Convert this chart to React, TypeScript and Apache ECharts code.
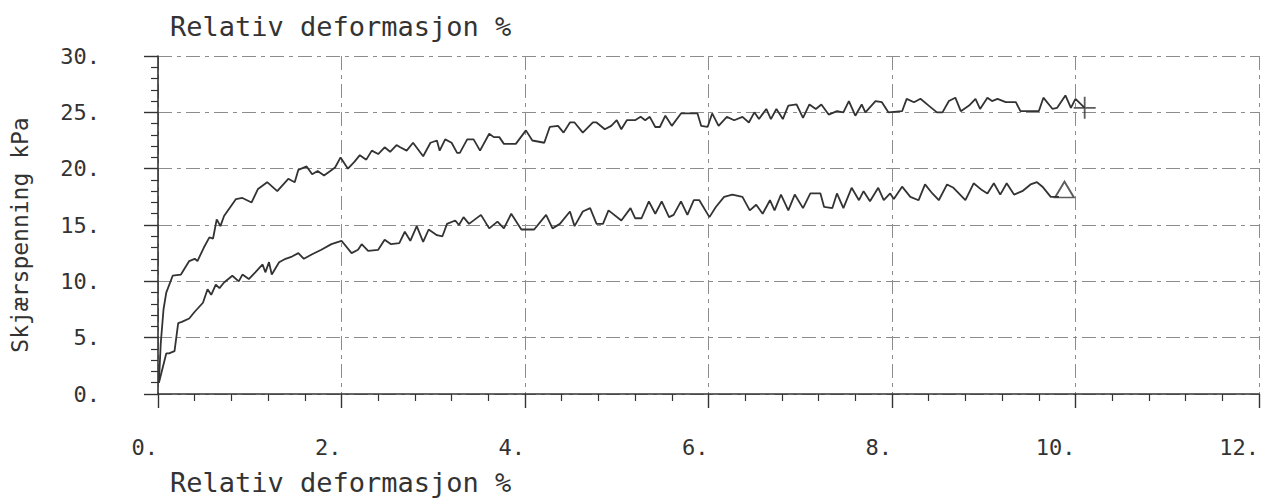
import React, { useEffect, useRef } from "react";
import * as echarts from "echarts";

// ---- Data ----
const titleText = "Relativ deformasjon %";
const yAxisTitle = "Skjærspenning kPa";

const xTickLabels = ["0.", "2.", "4.", "6.", "8.", "10.", "12."];
const yTickLabels = ["0.", "5.", "10.", "15.", "20.", "25.", "30."];

// Upper curve (relative deformation %, shear stress kPa)
const upperStrain = [
  0.01, 0.03, 0.06, 0.09, 0.16, 0.25, 0.34, 0.40, 0.43, 0.50, 0.56, 0.60, 0.64, 0.68, 0.72, 0.85, 0.92, 1.02,
  1.09, 1.19, 1.30, 1.42, 1.49, 1.53, 1.62, 1.68, 1.74, 1.81, 1.93, 1.99, 2.07, 2.14, 2.20, 2.27, 2.33, 2.40,
  2.47, 2.53, 2.60, 2.64, 2.71, 2.78, 2.89, 2.97, 3.04, 3.07, 3.13, 3.20, 3.26, 3.29, 3.37, 3.44, 3.51, 3.61,
  3.66, 3.72, 3.77, 3.90, 4.01, 4.08, 4.21, 4.27, 4.36, 4.42, 4.49, 4.54, 4.63, 4.74, 4.78, 4.87, 4.94, 5.00,
  5.05, 5.11, 5.20, 5.26, 5.31, 5.36, 5.42, 5.47, 5.53, 5.60, 5.70, 5.88, 5.92, 5.99, 6.04, 6.11, 6.20, 6.28,
  6.37, 6.44, 6.50, 6.55, 6.63, 6.68, 6.74, 6.81, 6.87, 6.96, 7.03, 7.10, 7.17, 7.23, 7.31, 7.40, 7.47, 7.53,
  7.60, 7.67, 7.71, 7.82, 7.89, 7.96, 8.11, 8.16, 8.24, 8.31, 8.40, 8.49, 8.55, 8.62, 8.69, 8.75, 8.84, 8.91,
  8.96, 9.04, 9.09, 9.15, 9.24, 9.35, 9.40, 9.60, 9.65, 9.75, 9.80, 9.89, 9.95, 10.00, 10.10,
];
const upperStress = [
  1.0, 4.5, 7.5, 9.0, 10.5, 10.6, 11.8, 12.0, 11.8, 13.0, 13.9, 13.8, 15.5, 14.9, 15.8, 17.3, 17.4, 17.0,
  18.2, 18.8, 18.0, 19.1, 18.8, 19.9, 20.2, 19.5, 19.8, 19.4, 20.1, 21.0, 20.0, 20.6, 21.2, 20.8, 21.6, 21.3,
  21.9, 21.5, 22.1, 21.9, 21.6, 22.3, 21.1, 22.3, 22.5, 21.6, 22.6, 22.3, 21.4, 21.4, 22.6, 22.6, 21.6, 23.1,
  22.8, 22.8, 22.2, 22.2, 23.4, 22.5, 22.3, 23.7, 23.8, 23.2, 24.1, 24.1, 23.2, 24.1, 24.1, 23.5, 23.8, 24.3,
  23.5, 24.3, 24.3, 24.6, 24.3, 24.6, 23.7, 23.7, 24.7, 23.8, 24.9, 24.9, 23.8, 23.7, 24.9, 23.8, 24.6, 24.3,
  24.6, 24.1, 25.0, 24.4, 25.3, 24.4, 25.3, 24.4, 25.6, 25.7, 24.5, 25.7, 25.3, 25.7, 24.8, 25.1, 25.0, 26.0,
  24.7, 25.7, 25.0, 26.0, 25.9, 25.0, 25.1, 26.2, 25.9, 26.2, 25.6, 25.0, 25.0, 26.0, 26.3, 25.1, 25.6, 26.2,
  25.3, 26.3, 26.0, 26.2, 25.9, 25.9, 25.1, 25.1, 26.3, 25.3, 25.4, 26.5, 25.4, 26.2, 25.4,
];

// Lower curve
const lowerStrain = [
  0.01, 0.09, 0.12, 0.18, 0.22, 0.26, 0.34, 0.40, 0.49, 0.54, 0.58, 0.63, 0.67, 0.72, 0.81, 0.88, 0.92, 0.99,
  1.06, 1.14, 1.17, 1.21, 1.24, 1.32, 1.39, 1.46, 1.53, 1.59, 1.68, 1.78, 1.89, 2.00, 2.11, 2.18, 2.22, 2.29,
  2.40, 2.47, 2.54, 2.63, 2.69, 2.75, 2.82, 2.89, 2.95, 3.04, 3.10, 3.15, 3.24, 3.28, 3.33, 3.39, 3.52, 3.61,
  3.70, 3.77, 3.85, 3.96, 4.10, 4.23, 4.30, 4.38, 4.49, 4.54, 4.63, 4.71, 4.78, 4.85, 4.91, 5.05, 5.15, 5.20,
  5.27, 5.35, 5.42, 5.49, 5.57, 5.62, 5.70, 5.77, 5.84, 5.90, 6.01, 6.08, 6.17, 6.26, 6.37, 6.45, 6.52, 6.59,
  6.67, 6.72, 6.79, 6.87, 6.94, 7.03, 7.11, 7.22, 7.26, 7.35, 7.40, 7.47, 7.56, 7.64, 7.69, 7.76, 7.85, 7.91,
  7.98, 8.02, 8.11, 8.20, 8.29, 8.36, 8.44, 8.51, 8.60, 8.67, 8.80, 8.89, 8.98, 9.04, 9.11, 9.18, 9.25, 9.33,
  9.42, 9.51, 9.58, 9.64, 9.73, 9.82,
];
const lowerStress = [
  1.0, 3.6, 3.6, 3.8, 6.3, 6.4, 6.7, 7.3, 8.1, 9.3, 8.8, 9.7, 9.4, 9.9, 10.5, 10.0, 10.6, 10.2,
  10.8, 11.5, 10.8, 11.7, 10.6, 11.7, 12.0, 12.2, 12.5, 12.0, 12.4, 12.8, 13.3, 13.6, 12.5, 12.8, 13.3, 12.7,
  12.8, 13.7, 13.3, 13.4, 14.4, 13.6, 14.9, 13.5, 14.6, 14.1, 14.0, 15.1, 15.4, 15.0, 15.7, 15.1, 15.9, 14.7,
  15.3, 14.7, 16.0, 14.6, 14.6, 15.9, 14.7, 15.1, 16.2, 14.9, 16.2, 16.5, 15.1, 15.1, 16.3, 15.4, 16.5, 15.6,
  15.6, 17.1, 16.0, 17.1, 15.7, 15.9, 17.1, 15.9, 17.2, 17.2, 15.7, 16.6, 17.5, 17.7, 17.5, 16.3, 16.8, 16.0,
  17.2, 16.3, 17.7, 16.3, 17.7, 16.5, 17.8, 17.8, 16.6, 16.5, 17.8, 16.5, 18.3, 17.2, 18.0, 17.1, 18.3, 17.2,
  17.8, 17.3, 18.4, 17.5, 17.2, 18.6, 17.8, 17.2, 18.6, 18.3, 17.2, 18.7, 18.1, 17.8, 18.7, 17.7, 18.7, 17.7,
  18.0, 18.6, 18.8, 18.4, 17.5, 17.5,
];

// End markers of the two curves
const upperEnd = [10.1, 25.4];
const lowerEnd = [9.88, 18.15];

const INK = "#333333";
const GRID = "#8c8c8c";
const FONT = "'DejaVu Sans Mono', monospace";

export default function App() {
  const ref = useRef<HTMLDivElement>(null);

  useEffect(() => {
    if (!ref.current) return;
    const chart = echarts.init(ref.current, undefined, { renderer: "svg" });
    const zip = (xs: number[], ys: number[]) => xs.map((x, i) => [x, ys[i]]);

    chart.setOption({
      animation: false,
      backgroundColor: "#ffffff",
      title: [
        {
          text: titleText,
          left: 170,
          top: 13,
          padding: 0,
          textStyle: { fontFamily: FONT, fontSize: 27, fontWeight: "normal", color: INK },
        },
        {
          text: titleText,
          left: 170,
          top: 469,
          padding: 0,
          textStyle: { fontFamily: FONT, fontSize: 27, fontWeight: "normal", color: INK },
        },
      ],
      grid: { left: 155, right: 6, top: 56, bottom: 105, containLabel: false },
      xAxis: {
        type: "value",
        min: 0,
        max: 12,
        interval: 2,
        axisLine: { show: true, lineStyle: { color: INK, width: 1.6 } },
        axisTick: { show: true, length: 14, lineStyle: { color: INK, width: 1.4 } },
        minorTick: { show: true, splitNumber: 5, length: 7, lineStyle: { color: INK, width: 1.2 } },
        splitLine: { show: true, lineStyle: { color: GRID, width: 1, type: [14, 5, 4, 5] } },
        axisLabel: {
          formatter: (v: number) => xTickLabels[Math.round(v / 2)] ?? "",
          align: "right",
          margin: 42,
          fontFamily: FONT,
          fontSize: 22,
          color: INK,
        },
      },
      yAxis: {
        type: "value",
        min: 0,
        max: 30,
        interval: 5,
        name: yAxisTitle,
        nameLocation: "middle",
        nameGap: 127,
        nameRotate: 90,
        nameTextStyle: { fontFamily: FONT, fontSize: 23, color: INK, padding: [0, 20, 0, 0] },
        axisLine: { show: true, lineStyle: { color: INK, width: 1.6 } },
        axisTick: { show: true, length: 14, lineStyle: { color: INK, width: 1.4 } },
        minorTick: { show: true, splitNumber: 5, length: 7, lineStyle: { color: INK, width: 1.2 } },
        splitLine: { show: true, lineStyle: { color: GRID, width: 1, type: [14, 5, 4, 5] } },
        axisLabel: {
          formatter: (v: number) => yTickLabels[Math.round(v / 5)] ?? "",
          margin: 58,
          fontFamily: FONT,
          fontSize: 22,
          color: INK,
        },
      },
      series: [
        {
          type: "line",
          data: zip(upperStrain, upperStress),
          showSymbol: false,
          lineStyle: { color: INK, width: 1.8 },
        },
        {
          type: "line",
          data: zip(lowerStrain, lowerStress),
          showSymbol: false,
          lineStyle: { color: INK, width: 1.8 },
        },
        {
          type: "scatter",
          data: [upperEnd],
          symbol: "path://M10,0L10,20M0,10L20,10",
          symbolSize: 22,
          itemStyle: { color: "transparent", borderColor: INK, borderWidth: 1.8 },
        },
        {
          type: "scatter",
          data: [lowerEnd],
          symbol: "triangle",
          symbolSize: [19, 16],
          itemStyle: { color: "transparent", borderColor: INK, borderWidth: 1.8 },
        },
      ],
    });

    return () => chart.dispose();
  }, []);

  return (
    <div
      ref={ref}
      style={{ position: "absolute", left: 0, top: 0, width: 1265, height: 499 }}
    />
  );
}
